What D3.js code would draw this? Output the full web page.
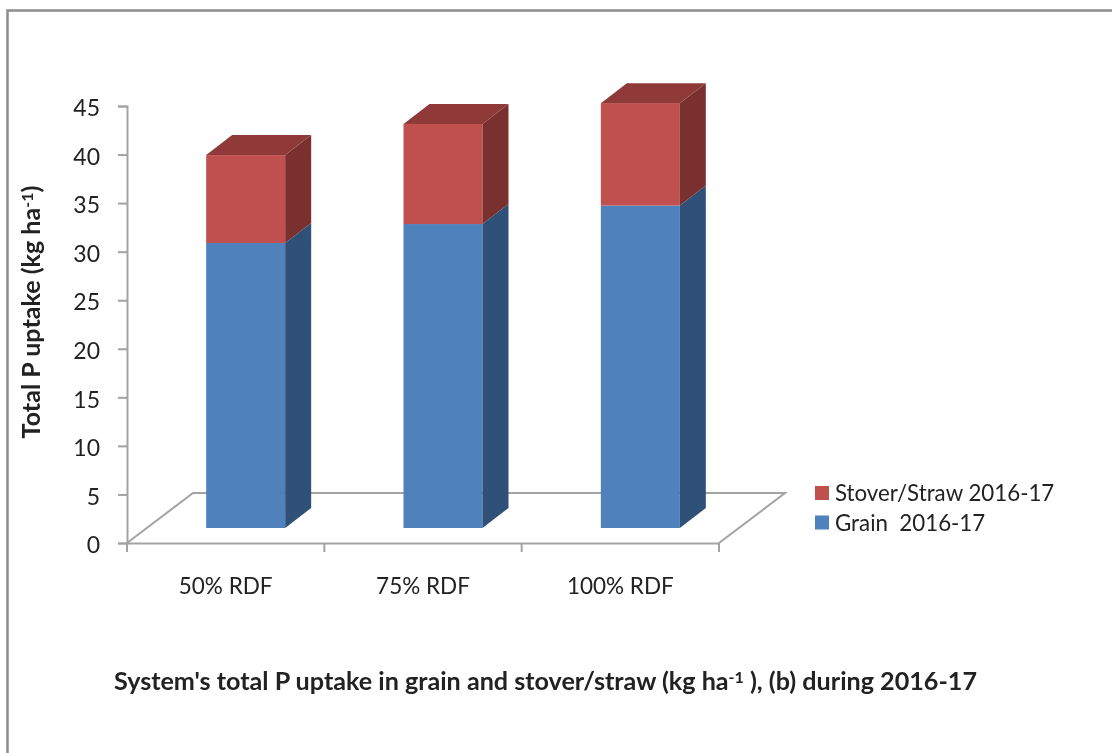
<!DOCTYPE html>
<html><head><meta charset="utf-8">
<script src="https://cdn.jsdelivr.net/npm/d3@7"></script>
<style>html,body{margin:0;padding:0;background:#fff}svg{display:block;filter:blur(0.45px)}text{font-family:Lato,"Open Sans",sans-serif;fill:#222}</style>
</head><body><svg id="c" width="1112" height="753"></svg>
<script>
const categories = ["50% RDF","75% RDF","100% RDF"];
const grain = [29.35,31.3,33.2];
const stover = [9.05,10.3,10.55];
const yTicks = [0,5,10,15,20,25,30,35,40,45];
const seriesNames = ["Stover/Straw 2016-17","Grain  2016-17"];
const yTitle = "Total P uptake (kg ha";
const xTitleA = "System's total P uptake in grain and stover/straw (kg ha";
const xTitleB = " ), (b) during 2016-17";

const svg = d3.select("#c");
const grey = "#a3a3a3";
const W=1112,H=753;
const x = d3.scaleBand().domain(categories).range([127,719]);
const y = d3.scaleLinear().domain([0,45]).range([543,106]);
const depth = {dx:26, dy:20};
const floorD = {dx:66, dy:50};
const front = {dx:20, dy:15};
const barW = 79;

svg.append("path").attr("d",`M7.5,${H}V10.5H${W+2}`).attr("fill","none").attr("stroke","#8c8c8c").attr("stroke-width",2.5);

const x0=x.range()[0],x1=x.range()[1],y0=y(0);
svg.append("path").attr("d",`M${x0},${y0}L${x0+floorD.dx},${y0-floorD.dy}H${x1+floorD.dx}L${x1},${y0}`)
  .attr("fill","none").attr("stroke",grey).attr("stroke-width",2);

const gy = svg.append("g").attr("transform",`translate(${x0},0)`).call(d3.axisLeft(y).tickValues(yTicks).tickSize(9).tickPadding(18));
const gx = svg.append("g").attr("transform",`translate(0,${y0})`).call(d3.axisBottom(x).tickSize(0).tickPadding(35));
[...categories.map(c=>x(c)), x1].forEach(v=>gx.append("line").attr("x1",v).attr("x2",v).attr("y1",0).attr("y2",9).attr("stroke",grey).attr("stroke-width",2));
[gy,gx].forEach(g=>{g.selectAll(".domain").attr("stroke",grey).attr("stroke-width",2);
  g.selectAll(".tick line").attr("stroke",grey).attr("stroke-width",2);
  g.selectAll("text").attr("font-size",g===gy?23:22.5).attr("fill","#222").attr("font-family",'Lato,sans-serif');});
gy.selectAll(".tick text").attr("dy","0.42em");

const stack = categories.map((c,i)=>({c,g:grain[i],s:stover[i]}));
const bx = d=>x(d.c)+x.bandwidth()/2+front.dx-barW/2;
const py = v=>y(v)-front.dy;
function seg(d,a,b,cf,cs){
  const X=bx(d), R=X+barW, ya=py(a), yb=py(b);
  svg.append("rect").attr("x",X).attr("y",yb).attr("width",barW).attr("height",ya-yb).attr("fill",cf);
  svg.append("path").attr("d",`M${R},${ya}L${R+depth.dx},${ya-depth.dy}V${yb-depth.dy}L${R},${yb}Z`).attr("fill",cs);
}
stack.forEach(d=>{
  seg(d,0,d.g,"#4f81bd","#2f5077");
  seg(d,d.g,d.g+d.s,"#c0504d","#7a302e");
  const X=bx(d),t=py(d.g+d.s);
  svg.append("path").attr("d",`M${X},${t}L${X+depth.dx},${t-depth.dy}H${X+barW+depth.dx}L${X+barW},${t}Z`).attr("fill","#8f3a38");
});

const lg = svg.append("g");
seriesNames.forEach((n,i)=>{
  const ly = 493+i*29.5;
  lg.append("rect").attr("x",815).attr("y",ly-7).attr("width",14).attr("height",14).attr("fill",i?"#4f81bd":"#c0504d");
  lg.append("text").attr("x",835).attr("y",ly+8).attr("font-size",22.3).attr("xml:space","preserve").text(n);
});

const yt = svg.append("text").attr("transform","translate(40,312) rotate(-90)").attr("text-anchor","middle").attr("font-size",25.1).attr("font-weight",700);
yt.append("tspan").text(yTitle);
yt.append("tspan").attr("dy",-7).attr("font-size",16).text("-1");
yt.append("tspan").attr("dy",7).text(")");
const xt = svg.append("text").attr("x",114).attr("y",690).attr("font-size",25.15).attr("font-weight",700);
xt.append("tspan").text(xTitleA);
xt.append("tspan").attr("dy",-7).attr("font-size",16).text("-1");
xt.append("tspan").attr("dy",7).attr("xml:space","preserve").text(xTitleB);
</script></body></html>
